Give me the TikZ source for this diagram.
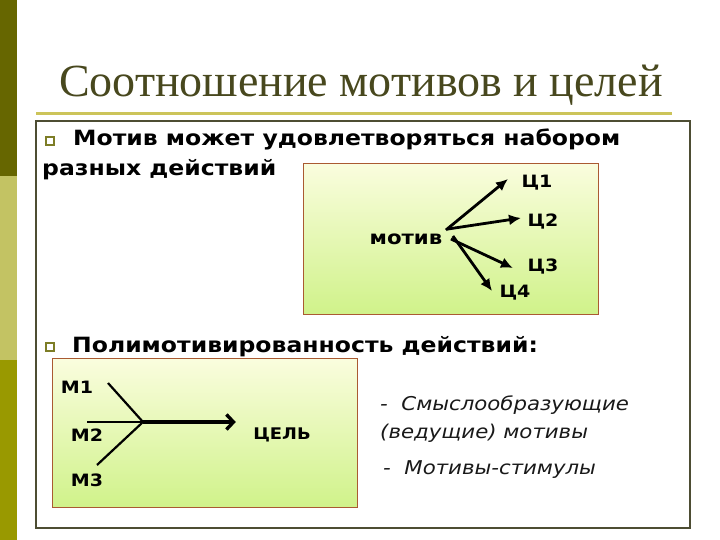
\documentclass[tikz,border=0pt]{standalone}
\usepackage{fontspec}
\setmainfont{Liberation Serif}
\newfontfamily\vfont[FakeStretch=1.12]{DejaVu Sans}
\usetikzlibrary{
arrows.meta,
positioning
}
\definecolor{olivedark}{RGB}{102,102,0}
\definecolor{olivelight}{RGB}{195,195,99}
\definecolor{olivemid}{RGB}{153,153,0}
\definecolor{titleolive}{RGB}{72,72,30}
\definecolor{framegray}{RGB}{77,77,51}
\definecolor{goldline}{RGB}{204,196,90}
\definecolor{boxtop}{RGB}{250,253,222}
\definecolor{boxbottom}{RGB}{208,242,138}
\definecolor{boxborder}{RGB}{170,90,50}

\begin{document}
\begin{tikzpicture}[
x=1pt,y=-1pt,
greenbox/.style={
draw=boxborder,
line width=0.8pt,
top color=boxtop,
bottom color=boxbottom,
inner sep=0pt,
anchor=north west
},
tag/.style={font=\vfont\bfseries\fontsize{17}{20}\selectfont},
bullettext/.style={font=\vfont\bfseries\fontsize{21}{24}\selectfont,anchor=base west,inner sep=0pt},
note/.style={font=\vfont\itshape\fontsize{19}{22}\selectfont,anchor=base west,inner sep=0pt,text=black!90},
bulletsq/.style={draw=olivedark!85,line width=2pt,fill=white,minimum size=8pt,inner sep=0pt},
fan/.style={-{Latex[length=12pt,width=11pt]},line width=2.8pt},
leg/.style={line width=2.2pt},
mainarrow/.style={-{Straight Barb[length=7pt,width=15pt]},line width=3.4pt}
]

\useasboundingbox (0,0) rectangle (720,540);

% side bar and frame
\fill[olivedark] (0,0) rectangle (17,176);
\fill[olivelight] (0,176) rectangle (17,360);
\fill[olivemid] (0,360) rectangle (17,540);
\draw[goldline,line width=3pt] (36,114) -- (672,114);
\draw[framegray,line width=2pt] (36,121) rectangle (690,528);

\node[font=\fontsize{46}{52}\selectfont,text=titleolive,anchor=base] (title) at (361,97) {Соотношение мотивов и целей};

% first bullet
\node[bulletsq] (sq1) at (50,141) {};
\node[bullettext] (bul1a) at (73,146) {Мотив может удовлетворяться набором};
\node[bullettext] (bul1b) at (42,176) {разных действий};

\node[greenbox,minimum width=295pt,minimum height=151pt] (topbox) at (303,163) {};
\node[tag,font=\vfont\bfseries\fontsize{19}{20}\selectfont] (motiv) at (406,239) {мотив};
\node[tag] (c1) at (537,183) {Ц1};
\node[tag] (c2) at (543,222) {Ц2};
\node[tag] (c3) at (543,267) {Ц3};
\node[tag] (c4) at (515,293) {Ц4};
\coordinate (tip1) at (508,179);
\coordinate (tip2) at (521,218);
\coordinate (tip3) at (513,268);
\coordinate (tip4) at (492,291);

\draw[fan] (motiv.north east) -- (tip1);
\draw[fan] ([xshift=2pt,yshift=1pt]motiv.north east) -- (tip2);
\draw[fan] ([xshift=5pt]motiv.east) -- (tip3);
\draw[fan] ([xshift=7pt,yshift=3pt]motiv.east) -- (tip4);

% second bullet
\node[bulletsq] (sq2) at (50,347) {};
\node[bullettext] (bul2) at (72,352) {Полимотивированность действий:};

\node[greenbox,minimum width=305pt,minimum height=149pt] (lowbox) at (52,358) {};
\node[tag] (m1) at (77,387) {М1};
\node[tag] (m2) at (87,435) {М2};
\node[tag] (m3) at (87,480) {М3};
\node[tag,font=\vfont\bfseries\fontsize{16}{20}\selectfont] (goal) at (282,435) {ЦЕЛЬ};
\coordinate (hub) at (143,422);
\coordinate (m1end) at (108,383);
\coordinate (m2end) at (87,422);
\coordinate (m3end) at (97,465);

\draw[leg] (m1end) -- (hub);
\draw[leg] (m2end) -- (hub);
\draw[leg] (m3end) -- (hub);
\draw[mainarrow] (hub) -- ([xshift=-14pt]hub -| goal.west);

% notes
\node[note] (note1) at (380,410) {-\ \ Смыслообразующие};
\node[note] (note2) at (380,438) {(ведущие) мотивы};
\node[note] (note3) at (383,474) {-\ \ Мотивы-стимулы};

\end{tikzpicture}
\end{document}
